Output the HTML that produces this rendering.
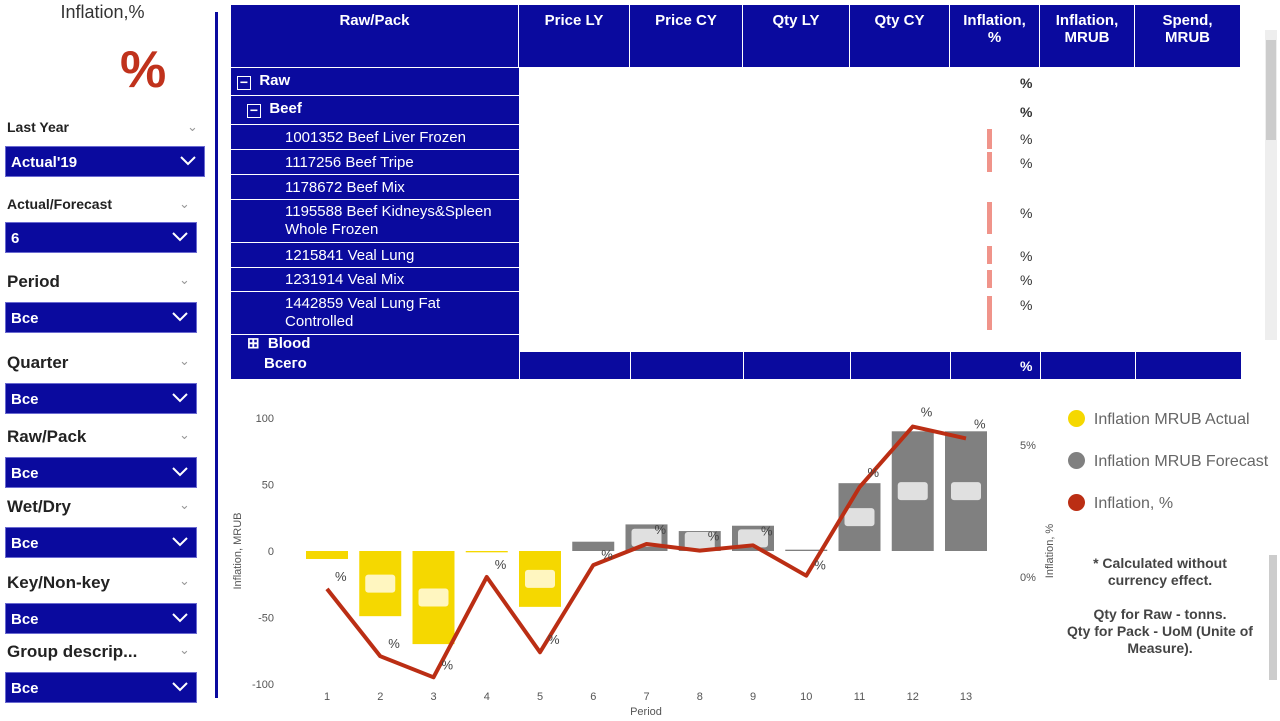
<!DOCTYPE html>
<html><head><meta charset="utf-8"><style>
*{box-sizing:border-box;margin:0;padding:0}
body{width:1280px;height:721px;background:#fff;font-family:"Liberation Sans",sans-serif;position:relative;overflow:hidden}
.abs{position:absolute}
.lbl{position:absolute;left:7px;font-weight:bold;font-size:15px;color:#222}
.lbl .chev{position:absolute;font-weight:normal;color:#999;font-size:13px}
.box{position:absolute;left:5px;height:31px;background:#0a0a9e;color:#fff;font-weight:bold;font-size:15px;padding:7px 0 0 5px;border:1px solid #6a6ad0}
.box svg{position:absolute;right:8px;top:9px}
.hd{position:absolute;top:5px;height:62px;background:#0a0a9e;color:#fff;font-weight:bold;font-size:15px;text-align:center;padding-top:7px;border-right:1px solid #fff}
.row{position:absolute;left:231px;width:288px;background:#0a0a9e;color:#fff;font-size:15px;border-bottom:1px solid #fff}
</style></head><body>
<div class="abs" style="left:0;width:205px;top:2px;text-align:center;font-size:18px;color:#333">Inflation,%</div>
<div class="abs" style="left:120px;top:40px;font-size:52px;color:#c0321c;font-weight:bold">%</div>
<div class="abs" style="left:215px;top:12px;width:3px;height:686px;background:#0a0a9e"></div>

<div id="slicers"></div>

<div class="abs" style="left:231px;top:5px;width:1010px;height:375px"></div>
<div class="hd" style="left:231px;width:288px">Raw/Pack</div>
<div class="hd" style="left:519px;width:111px">Price LY</div>
<div class="hd" style="left:630px;width:113px">Price CY</div>
<div class="hd" style="left:743px;width:107px">Qty LY</div>
<div class="hd" style="left:850px;width:100px">Qty CY</div>
<div class="hd" style="left:950px;width:90px">Inflation,<br>%</div>
<div class="hd" style="left:1040px;width:95px">Inflation,<br>MRUB</div>
<div class="hd" style="left:1135px;width:106px">Spend,<br>MRUB</div>

<div class="row" style="top:68px;height:28px;padding:4px 0 0 6px;font-weight:bold"><span style="display:inline-block;width:14px;height:14px;border:1px solid #fff;vertical-align:-2px;text-align:center;line-height:10px;font-size:14px">−</span>&nbsp; Raw</div>
<div class="row" style="top:96px;height:29px;padding:4px 0 0 16px;font-weight:bold"><span style="display:inline-block;width:14px;height:14px;border:1px solid #fff;vertical-align:-2px;text-align:center;line-height:10px;font-size:14px">−</span>&nbsp; Beef</div>
<div class="row" style="top:125px;height:25px;padding:4px 0 0 54px">1001352 Beef Liver Frozen</div>
<div class="row" style="top:150px;height:25px;padding:4px 0 0 54px">1117256 Beef Tripe</div>
<div class="row" style="top:175px;height:25px;padding:4px 0 0 54px">1178672 Beef Mix</div>
<div class="row" style="top:200px;height:43px;padding:3px 0 0 54px;line-height:18px">1195588 Beef Kidneys&amp;Spleen<br>Whole Frozen</div>
<div class="row" style="top:243px;height:25px;padding:4px 0 0 54px">1215841 Veal Lung</div>
<div class="row" style="top:268px;height:24px;padding:3px 0 0 54px">1231914 Veal Mix</div>
<div class="row" style="top:292px;height:43px;padding:3px 0 0 54px;line-height:18px">1442859 Veal Lung Fat<br>Controlled</div>
<div class="row" style="top:335px;height:17px;padding:2px 0 0 16px;font-weight:bold;line-height:14px;border:none">⊞&nbsp; Blood</div>
<div class="abs" style="left:231px;top:352px;width:1010px;height:27px;background:#0a0a9e;color:#fff;font-weight:bold;font-size:15px;padding:3px 0 0 33px">Всего</div>
<div class="abs" style="left:519px;top:352px;width:1px;height:27px;background:#fff"></div>
<div class="abs" style="left:630px;top:352px;width:1px;height:27px;background:#fff"></div>
<div class="abs" style="left:743px;top:352px;width:1px;height:27px;background:#fff"></div>
<div class="abs" style="left:850px;top:352px;width:1px;height:27px;background:#fff"></div>
<div class="abs" style="left:950px;top:352px;width:1px;height:27px;background:#fff"></div>
<div class="abs" style="left:1040px;top:352px;width:1px;height:27px;background:#fff"></div>
<div class="abs" style="left:1135px;top:352px;width:1px;height:27px;background:#fff"></div>
<div class="abs" style="left:1020px;top:358px;color:#fff;font-weight:bold;font-size:14px">%</div>
<div id="pcts"></div>
<div class="abs" style="left:1265px;top:30px;width:12px;height:310px;background:#eee"></div>
<div class="abs" style="left:1266px;top:40px;width:10px;height:100px;background:#ccc"></div>

<svg class="abs" style="left:0;top:0" width="1280" height="721" id="chart"></svg>

<div class="abs" style="left:1068px;top:410px;font-size:16px;color:#666">
<div style="height:42px"><span style="display:inline-block;width:17px;height:17px;border-radius:50%;background:#f5d800;vertical-align:-3px"></span>&nbsp;&nbsp;Inflation MRUB Actual</div>
<div style="height:42px"><span style="display:inline-block;width:17px;height:17px;border-radius:50%;background:#808080;vertical-align:-3px"></span>&nbsp;&nbsp;Inflation MRUB Forecast</div>
<div><span style="display:inline-block;width:17px;height:17px;border-radius:50%;background:#bb2e14;vertical-align:-3px"></span>&nbsp;&nbsp;Inflation, %</div>
</div>
<div class="abs" style="left:1060px;top:555px;width:200px;text-align:center;font-size:14px;font-weight:bold;color:#444;line-height:17px">* Calculated without<br>currency effect.<br><br>Qty for Raw - tonns.<br>Qty for Pack - UoM (Unite of<br>Measure).</div>
<div class="abs" style="left:1269px;top:555px;width:8px;height:125px;background:#ccc"></div>

<script>
const slicers=[["Last Year","Actual'19",119,146,200],["Actual/Forecast","6",196,222,192],["Period","Bce",272,302,192],["Quarter","Bce",353,383,192],["Raw/Pack","Bce",427,457,192],["Wet/Dry","Bce",497,527,192],["Key/Non-key","Bce",573,603,192],["Group descrip...","Bce",642,672,192]];
const sc=document.getElementById('slicers');
slicers.forEach(s=>{
  const l=document.createElement('div');l.className='lbl';l.style.top=s[2]+'px';
  l.style.fontSize=(s[0]==="Last Year"||s[0]==="Actual/Forecast")?'14px':'17px';
  l.innerHTML=s[0]+'<span class="chev" style="left:'+(s[4]-20)+'px;top:0">&#8964;</span>';
  
  
  sc.appendChild(l);
  const b=document.createElement('div');b.className='box';b.style.top=s[3]+'px';b.style.width=s[4]+'px';
  b.innerHTML=s[1]+'<svg width="16" height="10"><polyline points="1,1 8,8 15,1" fill="none" stroke="#fff" stroke-width="2"/></svg>';
  
  
  sc.appendChild(b);
});
const pc=document.getElementById('pcts');
[[75,true],[104,true],[131],[155],[205],[248],[272],[297]].forEach(p=>{
  const d=document.createElement('div');d.className='abs';d.style.left='1020px';d.style.top=p[0]+'px';d.style.fontSize='14px';d.style.color='#333';if(p[1])d.style.fontWeight='bold';d.textContent='%';
  
  
  pc.appendChild(d);
});
[[129,20],[152,20],[202,32],[246,18],[270,18],[296,34]].forEach(p=>{
  const d=document.createElement('div');d.className='abs';d.style.left='987px';d.style.top=p[0]+'px';d.style.width='5px';d.style.height=p[1]+'px';d.style.background='#f0948a';
  
  
  pc.appendChild(d);
});

const periods=[1,2,3,4,5,6,7,8,9,10,11,12,13];
const mrub=[-6,-49,-70,-1,-42,7,20,15,19,1,51,90,90];
const isForecast=[false,false,false,false,false,true,true,true,true,true,true,true,true];
const inflPct=[-0.45,-3.0,-3.8,0.0,-2.85,0.45,1.25,1.0,1.2,0.05,3.4,5.7,5.25];
const leftTicks=[100,50,0,-50,-100];
const rightTicks=[5,0];

const svg=document.getElementById('chart');const NS='http://www.w3.org/2000/svg';
const xS=p=>327+(p-1)*53.25;
const yL=v=>551-v*1.33;
const yR=v=>577-v*26.4;
function mk(t,a,txt){const e=document.createElementNS(NS,t);for(const k in a)e.setAttribute(k,a[k]);if(txt!==undefined)e.textContent=txt;svg.appendChild(e);return e;}
leftTicks.forEach(t=>{const e=mk('text',{x:274,y:yL(t)+4,'text-anchor':'end','font-size':11,fill:'#555','font-family':'Liberation Sans'},t);});
rightTicks.forEach(t=>{const e=mk('text',{x:1020,y:yR(t)+4,'font-size':11,fill:'#555','font-family':'Liberation Sans'},t+'%');});
periods.forEach(p=>{const e=mk('text',{x:xS(p),y:700,'text-anchor':'middle','font-size':11,fill:'#555','font-family':'Liberation Sans'},p);});
let e=mk('text',{x:646,y:715,'text-anchor':'middle','font-size':11,fill:'#555','font-family':'Liberation Sans'},'Period');
e=mk('text',{x:0,y:0,transform:'translate(241,551) rotate(-90)','text-anchor':'middle','font-size':11,fill:'#555','font-family':'Liberation Sans'},'Inflation, MRUB');
e=mk('text',{x:0,y:0,transform:'translate(1053,551) rotate(-90)','text-anchor':'middle','font-size':11,fill:'#555','font-family':'Liberation Sans'},'Inflation, %');
periods.forEach((p,i)=>{
  const v=mrub[i];const y0=yL(0),y1=yL(v);
  const r=mk('rect',{x:xS(p)-21,y:Math.min(y0,y1),width:42,height:Math.max(1,Math.abs(y1-y0)),fill:isForecast[i]?'#808080':'#f5d800'});
  
  
  if(Math.abs(v)>10){const c=mk('rect',{x:xS(p)-15,y:(y0+y1)/2-9,width:30,height:18,rx:3,fill:isForecast[i]?'#e0e0e0':'#fff6c0'});}
});
const pts=periods.map((p,i)=>xS(p)+','+yR(inflPct[i])).join(' ');
e=mk('polyline',{points:pts,fill:'none',stroke:'#bb2e14','stroke-width':4,'stroke-linejoin':'round'});


periods.forEach((p,i)=>{const t=mk('text',{x:xS(p)+8,y:yR(inflPct[i])+(inflPct[i]<1?-6:-10)+(i<5?-2:0),'font-size':13,fill:'#444','font-family':'Liberation Sans'},'%');});
</script>
</body></html>
